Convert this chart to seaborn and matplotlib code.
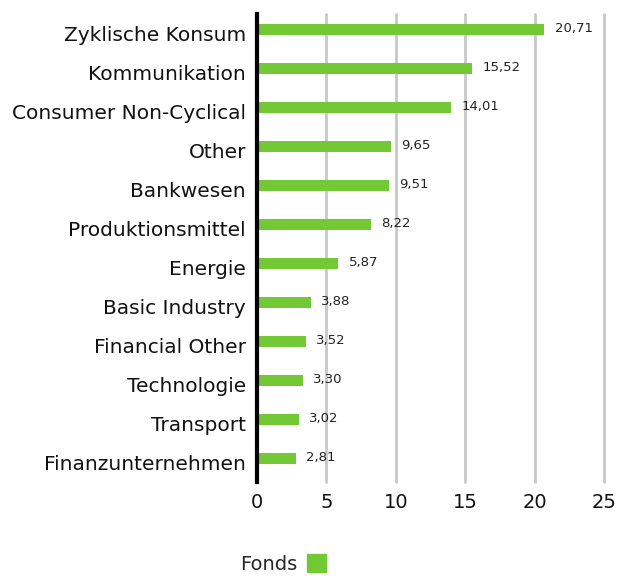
import pandas as pd
import numpy as np
from matplotlib import pyplot as plt
from matplotlib.patches import Patch
import seaborn as sns

sectors = ['Zyklische Konsum', 'Kommunikation', 'Consumer Non-Cyclical', 'Other',
           'Bankwesen', 'Produktionsmittel', 'Energie', 'Basic Industry',
           'Financial Other', 'Technologie', 'Transport', 'Finanzunternehmen']
fonds = [20.71, 15.52, 14.01, 9.65, 9.51, 8.22, 5.87, 3.88, 3.52, 3.30, 3.02, 2.81]
x_ticks = [0, 5, 10, 15, 20, 25]

green = '#73c935'

sns.set_style('white')
plt.rcParams['font.family'] = ['DejaVu Sans']

df = pd.DataFrame({'sector': sectors, 'value': fonds})

fig = plt.figure(figsize=(6.17, 5.76), dpi=100)
ax = fig.add_axes([257/617, 1-482/576, (604-257)/617, (482-14)/576])

sns.barplot(data=df, x='value', y='sector', orient='h', color=green,
            width=0.28, saturation=1, linewidth=0, ax=ax)

# bars sit a bit above the category centre in the original
for p in ax.patches:
    p.set_y(p.get_y() - 0.1)

for i, v in enumerate(fonds):
    ax.text(v + 0.75, i - 0.14, f'{v:.2f}'.replace('.', ','), va='center',
            ha='left', fontsize=9.5, color='#222222')

ax.set_xlim(0, 25)
ax.set_ylim(len(sectors) - 0.5, -0.5)
ax.set_xticks(x_ticks)
ax.set_xticklabels([str(t) for t in x_ticks])
ax.grid(axis='x', color='#c8c8c8', linewidth=2)
ax.set_axisbelow(True)
for gl in ax.get_xgridlines():
    gl.set_clip_on(False)
ax.get_xgridlines()[0].set_visible(False)
for s in ['top', 'right', 'bottom']:
    ax.spines[s].set_visible(False)
ax.spines['left'].set_color('black')
ax.spines['left'].set_linewidth(3)
ax.tick_params(axis='y', length=0, pad=8, labelsize=14.5, labelcolor='#111111')
ax.tick_params(axis='x', length=0, pad=8, labelsize=14, labelcolor='#111111')
ax.set_xlabel('')
ax.set_ylabel('')

fig.legend(handles=[Patch(color=green, label='Fonds')], loc='center',
           bbox_to_anchor=(283/617, 1-564/576), frameon=False, markerfirst=False,
           fontsize=14, handlelength=1.0, handleheight=1.0, handletextpad=0.5)

plt.savefig('out.png', dpi=100)
